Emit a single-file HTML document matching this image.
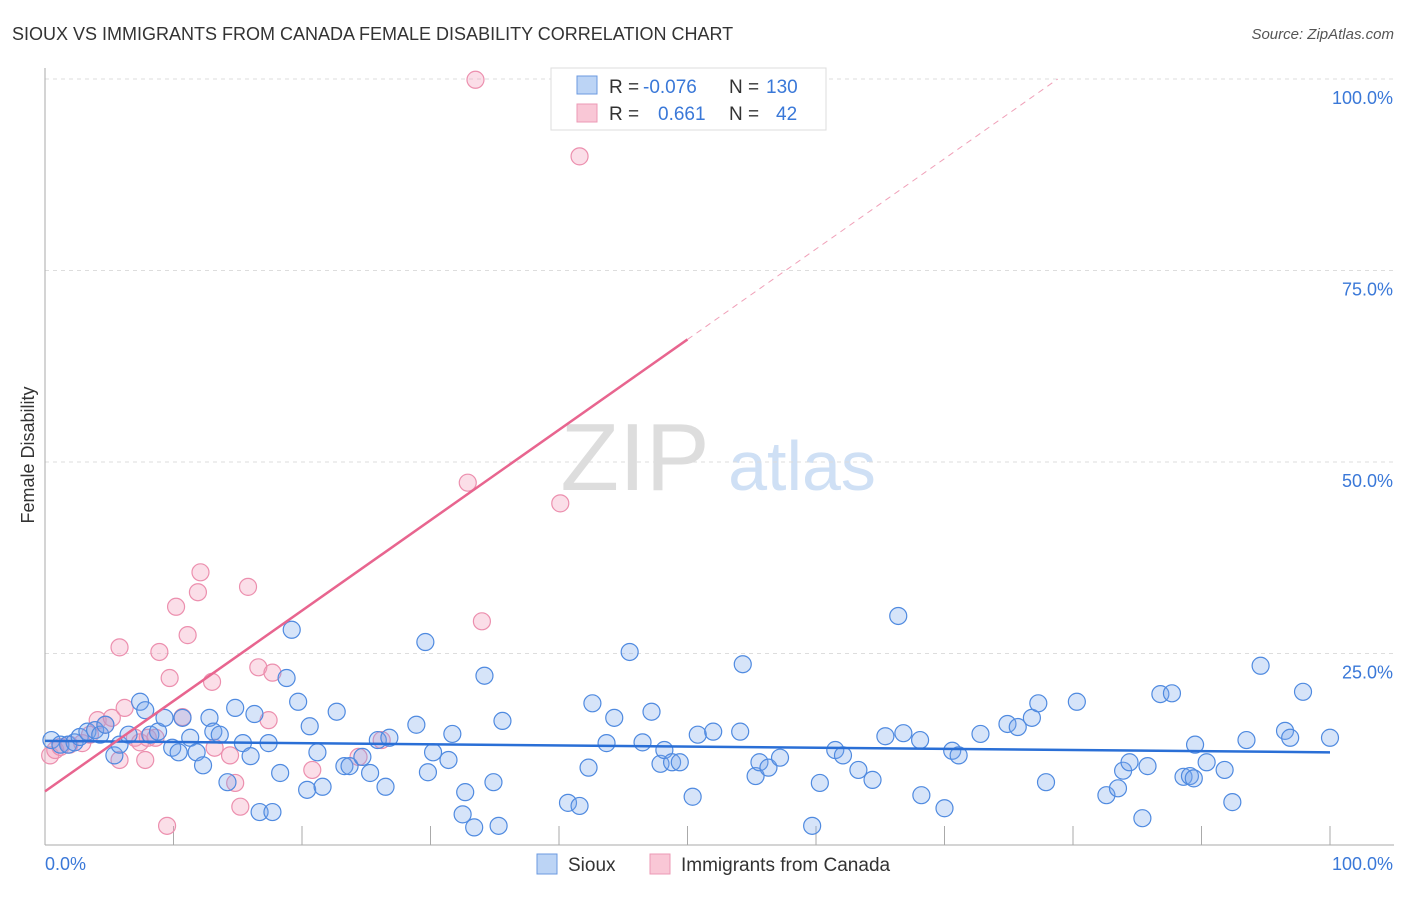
<!DOCTYPE html>
<html><head><meta charset="utf-8"><style>
body{margin:0;background:#fff;font-family:"Liberation Sans",sans-serif}
svg text{font-family:"Liberation Sans",sans-serif}
</style></head><body>
<svg id="chart" width="1406" height="892" xmlns="http://www.w3.org/2000/svg">
<text x="12" y="40" font-size="18" fill="#333">SIOUX VS IMMIGRANTS FROM CANADA FEMALE DISABILITY CORRELATION CHART</text>
<text x="1394" y="39" font-size="15" fill="#555" text-anchor="end" font-style="italic">Source: ZipAtlas.com</text>
<g>
<text x="635" y="490" font-size="96" fill="#ddd" text-anchor="middle" font-family="Liberation Serif,serif">ZIP</text>
<text x="802" y="490" font-size="70" fill="#cfe0f5" text-anchor="middle">atlas</text>
</g>
<g id="grid"></g>
<g id="axes"></g>
<g id="pts"></g>
<g id="lines"></g>
<text transform="translate(34,455) rotate(-90)" font-size="18" fill="#333" text-anchor="middle">Female Disability</text>
<g>
<rect x="551" y="68" width="275" height="62" fill="#fff" stroke="#ddd"/>
<rect x="577" y="76" width="20" height="18" fill="#bcd4f5" stroke="#6b9ae0"/>
<rect x="577" y="104" width="20" height="18" fill="#f9c7d6" stroke="#ec9ab5"/>
<text x="609" y="93" font-size="19" fill="#333">R = </text><text x="643" y="93" font-size="19" fill="#3a78d8">-0.076</text>
<text x="729" y="93" font-size="19" fill="#333">N = </text><text x="766" y="93" font-size="19" fill="#3a78d8">130</text>
<text x="609" y="120" font-size="19" fill="#333">R = </text><text x="658" y="120" font-size="19" fill="#3a78d8">0.661</text>
<text x="729" y="120" font-size="19" fill="#333">N = </text><text x="776" y="120" font-size="19" fill="#3a78d8">42</text>
</g>
<g>
<rect x="537" y="854" width="20" height="20" fill="#bcd4f5" stroke="#6b9ae0"/>
<text x="568" y="871" font-size="19" fill="#333">Sioux</text>
<rect x="650" y="854" width="20" height="20" fill="#f9c7d6" stroke="#ec9ab5"/>
<text x="681" y="871" font-size="19" fill="#333">Immigrants from Canada</text>
</g>
</svg>
<script>
const yTicks=[25,50,75,100];
const yTickLabels=["25.0%","50.0%","75.0%","100.0%"];
const xEdgeLabels=["0.0%","100.0%"];
const siouxX=[0.5,1.2,1.8,2.3,2.7,3.3,3.9,4.3,4.7,5.4,5.8,6.5,7.4,7.8,8.2,8.8,9.3,9.9,10.4,10.7,11.3,11.8,12.3,12.8,13.1,13.6,14.2,14.8,15.4,16.0,16.3,16.7,17.4,17.7,18.3,18.8,19.2,19.7,20.4,20.6,21.2,21.6,22.7,23.3,23.7,24.7,25.3,25.9,26.5,26.8,28.9,29.6,29.8,30.2,31.4,31.7,32.5,32.7,33.4,34.2,34.9,35.3,35.6,40.7,41.6,42.3,42.6,43.7,44.3,45.5,46.5,47.2,47.9,48.2,48.8,49.4,50.4,50.8,52.0,54.1,54.3,55.3,55.6,56.3,57.2,59.7,60.3,61.5,62.1,63.3,64.4,65.4,66.4,66.8,68.1,68.2,70.0,70.6,71.1,72.8,74.9,75.7,76.8,77.3,77.9,80.3,82.6,83.5,83.9,84.4,85.4,85.8,86.8,87.7,88.6,89.1,89.4,89.5,90.4,91.8,92.4,93.5,94.6,96.5,96.9,97.9,100.0];
const siouxY=[13.7,13.1,13.1,13.4,14.1,14.8,15.0,14.4,15.7,11.7,13.1,14.4,18.7,17.6,14.4,14.8,16.6,12.7,12.1,16.6,14.0,12.1,10.4,16.6,14.8,14.4,8.2,17.9,13.3,11.6,17.1,4.3,13.3,4.3,9.4,21.8,28.1,18.7,7.2,15.5,12.1,7.6,17.4,10.3,10.3,11.5,9.4,13.7,7.6,14.0,15.7,26.5,9.5,12.1,11.1,14.5,4.0,6.9,2.3,22.1,8.2,2.5,16.2,5.5,5.1,10.1,18.5,13.3,16.6,25.2,13.4,17.4,10.6,12.4,10.8,10.8,6.3,14.4,14.8,14.8,23.6,9.0,10.8,10.1,11.4,2.5,8.1,12.4,11.7,9.8,8.5,14.2,29.9,14.6,13.7,6.5,4.8,12.3,11.7,14.5,15.8,15.4,16.6,18.5,8.2,18.7,6.5,7.4,9.7,10.8,3.5,10.3,19.7,19.8,8.9,9.0,8.7,13.1,10.8,9.8,5.6,13.7,23.4,14.9,14.0,20.0,14.0];
const canX=[0.4,0.8,1.2,1.9,2.9,3.5,4.1,4.7,5.2,5.8,6.2,7.0,7.4,7.8,8.0,8.6,8.9,9.5,9.7,10.2,10.7,11.1,11.9,12.1,13.0,13.2,14.4,14.8,15.2,15.8,16.6,17.4,17.7,20.8,24.4,26.2,32.9,34.0,33.5,40.1,41.6,5.8];
const canY=[11.7,12.4,12.8,13.1,13.3,14.4,16.3,15.7,16.6,11.1,17.9,14.0,13.4,11.1,14.0,14.0,25.2,2.5,21.8,31.1,16.7,27.4,33.0,35.6,21.3,12.7,11.7,8.1,5.0,33.7,23.2,16.3,22.5,9.8,11.5,13.7,47.3,29.2,99.9,44.6,89.9,25.8];
const siouxTrend=[13.6,12.1]; // value at x=0, x=100
const canTrend=[7.0,1.18]; // intercept, slope
const canSolidEnd=50;

const X0=45,X1=1330,Y0=845,Y100=79;
const sx=v=>X0+(X1-X0)*v/100, sy=v=>Y0-(Y0-Y100)*v/100;
const NS="http://www.w3.org/2000/svg";
function mk(t,a,p){const e=document.createElementNS(NS,t);for(const k in a)e.setAttribute(k,a[k]);p.appendChild(e);return e;}
const grid=document.getElementById('grid'),axes=document.getElementById('axes'),pts=document.getElementById('pts'),lines=document.getElementById('lines');
yTicks.forEach((t,i)=>{
  const l=mk('line',{x1:X0,x2:1394,y1:sy(t),y2:sy(t),stroke:'#ddd','stroke-dasharray':'4,4'},grid);
  
  
  const tx=mk('text',{x:1393,y:sy(t)+25,'font-size':18,fill:'#3a78d8','text-anchor':'end'},axes);
  tx.textContent=yTickLabels[i];
  
  
});
mk('line',{x1:X0,x2:X0,y1:68,y2:Y0,stroke:'#aaa'},axes);
mk('line',{x1:X0,x2:1394,y1:Y0,y2:Y0,stroke:'#aaa'},axes);
for(let i=1;i<=10;i++){mk('line',{x1:sx(i*10),x2:sx(i*10),y1:826,y2:Y0,stroke:'#aaa'},axes);}
const xl=mk('text',{x:45,y:870,'font-size':18,fill:'#3a78d8'},axes);xl.textContent=xEdgeLabels[0];

const xr=mk('text',{x:1393,y:870,'font-size':18,fill:'#3a78d8','text-anchor':'end'},axes);xr.textContent=xEdgeLabels[1];

canX.forEach((x,i)=>{const c=mk('circle',{cx:sx(x),cy:sy(canY[i]),r:8.5,fill:'rgba(244,160,188,0.35)',stroke:'#ec8fae','stroke-width':1.2},pts);
  });
siouxX.forEach((x,i)=>{const c=mk('circle',{cx:sx(x),cy:sy(siouxY[i]),r:8.5,fill:'rgba(120,165,235,0.3)',stroke:'#4f8ae0','stroke-width':1.2},pts);
  });
const bl=mk('line',{x1:sx(0),y1:sy(siouxTrend[0]),x2:sx(100),y2:sy(siouxTrend[1]),stroke:'#2a6fd6','stroke-width':2.5},lines);

const xe=(100-canTrend[0])/canTrend[1];
const pl=mk('line',{x1:sx(0),y1:sy(canTrend[0]),x2:sx(canSolidEnd),y2:sy(canTrend[0]+canTrend[1]*canSolidEnd),stroke:'#e8658f','stroke-width':2.5},lines);

const pd=mk('line',{x1:sx(canSolidEnd),y1:sy(canTrend[0]+canTrend[1]*canSolidEnd),x2:sx(xe),y2:sy(100),stroke:'#f0a0b8','stroke-width':1,'stroke-dasharray':'6,5'},lines);

</script>
</body></html>
